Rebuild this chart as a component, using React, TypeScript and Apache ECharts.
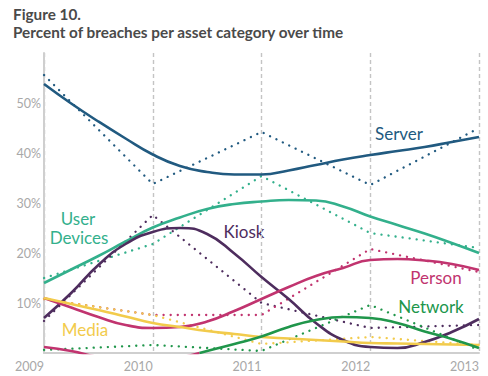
import React, { useEffect, useRef } from "react";
import * as echarts from "echarts";

const years = [2009, 2010, 2011, 2012, 2013];
const yTicks = [0, 10, 20, 30, 40, 50, 60];

// observed values (dotted lines)
const serverActual = [55.6, 33.8, 44.2, 33.6, 45.0];
const userDevicesActual = [15.0, 21.8, 35.4, 24.0, 21.0];
const kioskActual = [6.4, 27.6, 10.0, 5.0, 5.6];
const personActual = [10.8, 7.6, 7.6, 20.8, 16.2];
const networkActual = [0.6, 1.6, 0.4, 9.6, 0.6];
const mediaActual = [10.8, 7.6, 1.8, 3.2, 1.6];

// trend lines (solid), read at quarter years
const trendYears = [
  2009, 2009.25, 2009.5, 2009.75, 2010, 2010.25, 2010.5, 2010.75, 2011,
  2011.25, 2011.5, 2011.75, 2012, 2012.25, 2012.5, 2012.75, 2013,
];
const serverTrend = [53.8, 49.9, 46.3, 42.9, 39.7, 37.4, 36.2, 35.7, 35.7, 36.5, 37.6, 38.7, 39.6, 40.4, 41.2, 42.2, 43.2];
const userDevicesTrend = [14, 16.7, 19.4, 22.3, 25.1, 27.1, 28.8, 29.8, 30.3, 30.6, 30.5, 29.3, 27.3, 25.6, 23.9, 22.0, 20.0];
const kioskTrend = [7, 12.0, 17.6, 21.8, 24.2, 25.0, 23.8, 19.9, 15.2, 10.8, 6.0, 2.6, 1.2, 1.0, 2.2, 4.2, 6.8];
const personTrend = [11, 9.1, 7.2, 5.6, 5.0, 5.2, 6.3, 8.4, 10.8, 13.2, 15.4, 17.0, 18.6, 18.8, 18.5, 17.8, 16.6];
const mediaTrend = [11, 9.8, 8.6, 7.3, 6.0, 5.2, 4.4, 3.8, 3.2, 2.9, 2.6, 2.3, 2.0, 1.9, 1.8, 1.7, 1.6];
const networkTrendEarlyYears = [2009, 2009.25, 2009.5, 2009.75, 2010, 2010.25, 2010.43];
const networkTrendEarly = [1.2, 0.4, -0.8, -1.4, -1.5, -0.9, 0];
const networkTrendLateYears = [2010.43, 2010.5, 2010.75, 2011, 2011.25, 2011.5, 2011.75, 2012, 2012.25, 2012.5, 2012.75, 2013];
const networkTrendLate = [0, 0.4, 1.8, 3.3, 5.2, 6.6, 7.2, 7.0, 6.0, 4.3, 2.8, 1.0];

const C = {
  server: "#215a80",
  user: "#33b08c",
  kiosk: "#4e2d5e",
  person: "#c1346f",
  network: "#20964b",
  media: "#f2cb4c",
};

const FONT = "Lato, 'Open Sans', sans-serif";

function pairs(xs: number[], ys: number[]) {
  return xs.map((x, i) => [x, ys[i]]);
}

function dotted(name: string, ys: number[], color: string) {
  return {
    name,
    type: "line",
    data: pairs(years, ys),
    symbol: "none",
    silent: true,
    z: 2,
    lineStyle: { color, width: 2.3, type: [0.1, 7], cap: "round" },
  };
}

function trend(name: string, xs: number[], ys: number[], color: string) {
  return {
    name,
    type: "line",
    data: pairs(xs, ys),
    symbol: "none",
    silent: true,
    smooth: 0.5,
    z: 3,
    lineStyle: { color, width: 2.6 },
  };
}

function label(text: string, x: number, y: number, color: string) {
  return {
    type: "text",
    x,
    y,
    silent: true,
    style: {
      text,
      fill: color,
      font: `17px ${FONT}`,
      textAlign: "center",
      textVerticalAlign: "middle",
    },
  };
}

export default function App() {
  const ref = useRef<HTMLDivElement>(null);
  useEffect(() => {
    document.body.style.margin = "0";
    const chart = echarts.init(ref.current!, undefined, { renderer: "svg" });
    chart.setOption({
      animation: false,
      backgroundColor: "#ffffff",
      grid: { left: 44, right: 9, top: 53, bottom: 23 },
      xAxis: {
        type: "value",
        min: years[0],
        max: years[years.length - 1],
        interval: 1,
        axisLine: { show: true, lineStyle: { color: "#cfcfcf", width: 2 } },
        axisTick: { show: false },
        axisLabel: {
          color: "#a8a8a8",
          fontFamily: FONT,
          fontSize: 12.5,
          align: "right",
          margin: 7,
          formatter: (v: number) => String(v),
        },
        splitLine: {
          show: true,
          lineStyle: { color: "#c4c4c4", width: 1.4, type: [4, 3] },
        },
      },
      yAxis: {
        type: "value",
        min: yTicks[0],
        max: yTicks[yTicks.length - 1],
        interval: 10,
        axisLine: { show: true, lineStyle: { color: "#cfcfcf", width: 2 } },
        axisTick: { show: false },
        splitLine: { show: false },
        axisLabel: {
          color: "#a8a8a8",
          fontFamily: FONT,
          fontSize: 12.5,
          margin: 3,
          showMinLabel: false,
          showMaxLabel: false,
          formatter: (v: number) => `${v}%`,
        },
      },
      series: [
        dotted("Server (actual)", serverActual, C.server),
        dotted("User Devices (actual)", userDevicesActual, C.user),
        dotted("Kiosk (actual)", kioskActual, C.kiosk),
        dotted("Person (actual)", personActual, C.person),
        dotted("Network (actual)", networkActual, C.network),
        dotted("Media (actual)", mediaActual, C.media),
        trend("Server", trendYears, serverTrend, C.server),
        trend("User Devices", trendYears, userDevicesTrend, C.user),
        trend("Kiosk", trendYears, kioskTrend, C.kiosk),
        trend("Person", trendYears, personTrend, C.person),
        trend("Media", trendYears, mediaTrend, C.media),
        trend("Network (early)", networkTrendEarlyYears, networkTrendEarly, C.person),
        trend("Network", networkTrendLateYears, networkTrendLate, C.network),
      ],
      graphic: [
        {
          type: "text",
          x: 13,
          y: 14,
          silent: true,
          style: {
            text: "Figure 10.",
            fill: "#4a4a4a",
            font: `bold 15.3px ${FONT}`,
            textVerticalAlign: "middle",
          },
        },
        {
          type: "text",
          x: 13,
          y: 32,
          silent: true,
          style: {
            text: "Percent of breaches per asset category over time",
            fill: "#4a4a4a",
            font: `bold 15.3px ${FONT}`,
            textVerticalAlign: "middle",
          },
        },
        label("Server", 399, 133, C.server),
        label("User", 78, 218, C.user),
        label("Devices", 79, 237, C.user),
        label("Kiosk", 244, 231, C.kiosk),
        label("Person", 436, 277, C.person),
        label("Network", 431, 306, C.network),
        label("Media", 85, 329, C.media),
      ],
    });
    return () => chart.dispose();
  }, []);
  return <div ref={ref} style={{ width: 488, height: 376 }} />;
}
